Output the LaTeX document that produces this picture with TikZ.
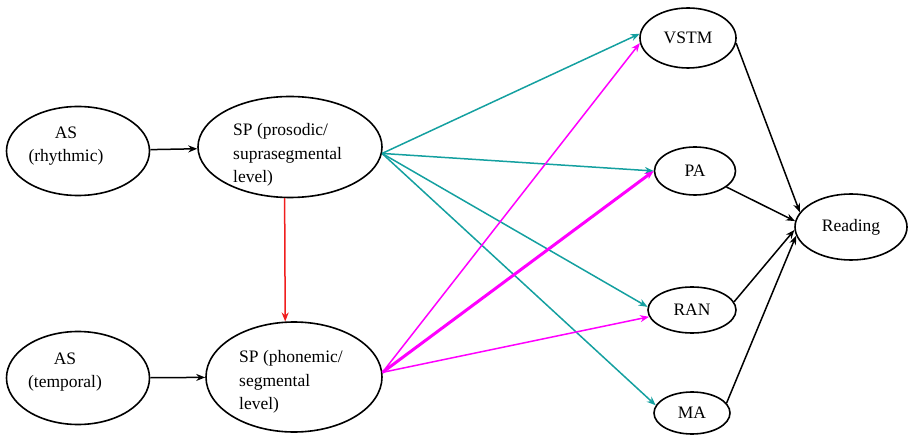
\documentclass[tikz,border=0pt]{standalone}
\usepackage{fontspec}
\setmainfont{Liberation Serif}
\usetikzlibrary{shapes.geometric,arrows.meta}
\definecolor{tealc}{RGB}{20,160,160}
\definecolor{magc}{RGB}{255,0,255}
\definecolor{redc}{RGB}{240,30,30}
\begin{document}
\begin{tikzpicture}[x=1pt,y=-1pt,
  ell/.style={draw, ellipse, line width=1.6pt, inner sep=0pt, font=\fontsize{17.5}{23.3}\selectfont},
  txt/.style={font=\fontsize{17.5}{23.3}\selectfont, inner sep=0pt},
  conn/.style={line width=1.5pt, -{Stealth[length=9pt,width=7pt]}}]
\useasboundingbox (0,0) rectangle (909,435);
% left nodes
\node[ell, minimum width=143pt, minimum height=89pt] (asr) at (78,151) {};
\node[txt, align=center] (asrt) at (66,146) {AS\\(rhythmic)};
\node[ell, minimum width=184pt, minimum height=101pt] (spp) at (290,147) {};
\node[txt, align=left, anchor=west] (sppt) at (233,155) {SP (prosodic/\\suprasegmental\\level)};
\node[ell, minimum width=143pt, minimum height=93pt] (ast) at (78,378) {};
\node[txt, align=center] (astt) at (65,372) {AS\\(temporal)};
\node[ell, minimum width=176pt, minimum height=110pt] (spph) at (294,377) {};
\node[txt, align=left, anchor=west] (sppht) at (239,382) {SP (phonemic/\\segmental\\level)};
% right nodes
\node[ell, minimum width=96pt, minimum height=60pt] (vstm) at (688,38) {VSTM};
\node[ell, minimum width=81pt, minimum height=48pt] (pa) at (695,171) {PA};
\node[ell, minimum width=88pt, minimum height=46pt] (ran) at (692,310) {RAN};
\node[ell, minimum width=76pt, minimum height=42pt] (ma) at (692,413) {MA};
\node[ell, minimum width=112pt, minimum height=66pt] (read) at (851,227) {Reading};
% black arrows left
\draw[conn] (asr) -- (spp);
\draw[conn] (ast) -- (spph);
\draw[conn, redc] (spp.-96) -- (spph.99);
% teal
\draw[conn, tealc] (spp.-4) -- (vstm.175);
\draw[conn, tealc] (spp.-4) -- (pa.west);
\draw[conn, tealc] (spp.-4) -- (ran.176);
\draw[conn, tealc] (spp.-4) -- (ma.168);
% magenta
\draw[conn, magc] (spph.3) -- (vstm.186);
\draw[conn, magc, line width=3pt] (spph.3) -- (pa.west);
\draw[conn, magc] (spph.3) -- (ran.189);
% black to reading
\draw[conn] (vstm.-6) -- (read.164.6);
\draw[conn] (pa.-27) -- (read.174.4);
\draw[conn] (ran.11) -- (read.183.4);
\draw[conn] (ma.16) -- (read.189);
\end{tikzpicture}
\end{document}
